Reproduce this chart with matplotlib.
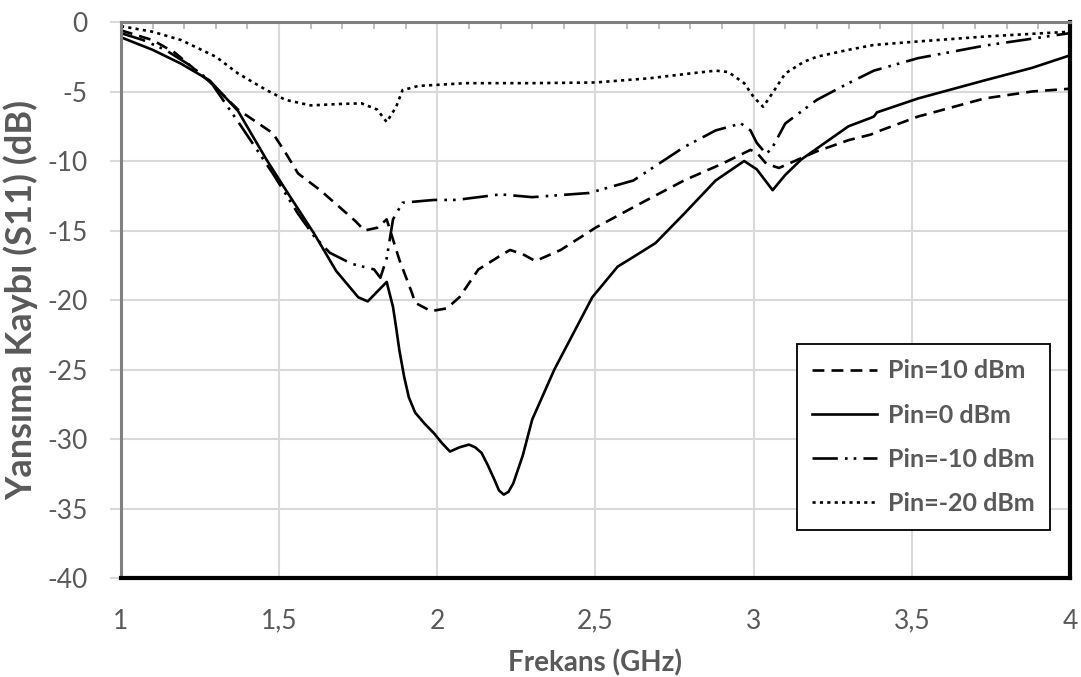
import matplotlib
matplotlib.use("Agg")
import matplotlib.pyplot as plt
from matplotlib.ticker import MultipleLocator, FuncFormatter

plt.rcParams['font.family'] = ['Lato', 'DejaVu Sans']

# S11 readings per input power level (frequency in GHz, return loss in dB)
f_p10 = [1.00, 1.10, 1.17, 1.28, 1.37, 1.48, 1.52, 1.56, 1.63, 1.69, 1.74, 1.77, 1.81, 1.84,
         1.88, 1.92, 1.93, 1.98, 2.03, 2.07, 2.13, 2.20, 2.23, 2.27, 2.31, 2.39, 2.50, 2.63,
         2.78, 2.90, 2.99, 3.01, 3.04, 3.08, 3.20, 3.30, 3.37, 3.39, 3.52, 3.73, 3.88, 4.00]
s_p10 = [-0.6, -1.3, -2.2, -4.3, -6.3, -8.0, -9.4, -10.9, -12.1, -13.3, -14.3, -15.0, -14.8, -14.2,
         -17.1, -19.5, -20.2, -20.8, -20.6, -19.8, -17.8, -16.8, -16.4, -16.7, -17.2, -16.4, -14.8, -13.2,
         -11.4, -10.2, -9.2, -9.4, -10.2, -10.5, -9.3, -8.5, -8.1, -7.9, -6.8, -5.5, -5.0, -4.8]

f_p0 = [1.00, 1.10, 1.19, 1.28, 1.37, 1.46, 1.53, 1.61, 1.68, 1.75, 1.78, 1.81, 1.84, 1.86,
        1.87, 1.88, 1.895, 1.91, 1.93, 1.96, 1.99, 2.015, 2.04, 2.07, 2.10, 2.12, 2.14, 2.16,
        2.18, 2.195, 2.21, 2.225, 2.24, 2.27, 2.30, 2.37, 2.43, 2.49, 2.57, 2.62, 2.69, 2.78,
        2.88, 2.97, 3.01, 3.06, 3.10, 3.15, 3.30, 3.37, 3.38, 3.39, 3.52, 3.73, 3.88, 4.00]
s_p0 = [-1.1, -2.0, -3.0, -4.2, -6.4, -9.9, -12.4, -15.2, -17.9, -19.8, -20.1, -19.4, -18.7, -20.5,
        -22.0, -23.6, -25.5, -27.0, -28.1, -28.9, -29.6, -30.3, -30.9, -30.6, -30.4, -30.6, -31.0, -31.9,
        -32.9, -33.7, -34.0, -33.8, -33.2, -31.2, -28.6, -25.0, -22.4, -19.8, -17.6, -16.9, -15.9, -13.8,
        -11.4, -10.0, -10.6, -12.1, -11.0, -9.9, -7.5, -6.9, -6.8, -6.5, -5.5, -4.2, -3.3, -2.4]

f_m10 = [1.00, 1.07, 1.14, 1.21, 1.28, 1.38, 1.48, 1.56, 1.61, 1.66, 1.73, 1.80, 1.82, 1.84,
         1.86, 1.89, 1.99, 2.06, 2.20, 2.30, 2.48, 2.62, 2.70, 2.78, 2.88, 2.96, 2.99, 3.01,
         3.04, 3.06, 3.10, 3.20, 3.30, 3.38, 3.52, 3.73, 3.88, 4.00]
s_m10 = [-0.8, -1.3, -2.0, -3.0, -4.2, -7.5, -10.9, -13.8, -15.4, -16.6, -17.4, -17.8, -18.4, -17.0,
         -14.2, -13.0, -12.8, -12.8, -12.4, -12.6, -12.3, -11.4, -10.2, -9.0, -7.8, -7.3, -7.8, -8.7,
         -9.5, -9.0, -7.3, -5.6, -4.4, -3.5, -2.6, -1.7, -1.2, -0.8]

f_m20 = [1.00, 1.10, 1.19, 1.30, 1.37, 1.46, 1.52, 1.60, 1.69, 1.76, 1.81, 1.84, 1.87, 1.89,
         1.94, 2.09, 2.30, 2.50, 2.67, 2.80, 2.88, 2.92, 2.97, 3.00, 3.03, 3.06, 3.10, 3.16,
         3.20, 3.30, 3.38, 3.52, 3.73, 3.88, 4.00]
s_m20 = [-0.3, -0.7, -1.3, -2.5, -3.7, -4.9, -5.6, -6.0, -5.9, -5.85, -6.3, -7.2, -6.1, -4.9,
         -4.6, -4.4, -4.4, -4.35, -4.05, -3.7, -3.5, -3.6, -4.4, -5.4, -6.1, -5.1, -3.7, -2.85,
         -2.5, -2.0, -1.65, -1.4, -1.05, -0.85, -0.7]

series = [
    (f_p10, s_p10, 'Pin=10 dBm', (4.5, 2.7)),
    (f_p0, s_p0, 'Pin=0 dBm', None),
    (f_m10, s_m10, 'Pin=-10 dBm', (9.6, 2.7, 1, 2.3, 1, 2.7)),
    (f_m20, s_m20, 'Pin=-20 dBm', (1.2, 1.6)),
]

gray_txt = '#595959'

fig = plt.figure(figsize=(10.81, 6.77), dpi=100)
ax = fig.add_axes([0.1119, 0.1462, 0.8779, 0.8213])

for f, s, lab, dash in series:
    line, = ax.plot(f, s, color='black', lw=1.9, label=lab, solid_joinstyle='round')
    if dash is not None:
        line.set_dashes(dash)

ax.set_xlim(1, 4)
ax.set_ylim(-40, 0)
ax.xaxis.set_major_locator(MultipleLocator(0.5))
ax.yaxis.set_major_locator(MultipleLocator(5))
comma = FuncFormatter(lambda v, p: f'{v:g}'.replace('.', ','))
ax.xaxis.set_major_formatter(comma)
ax.yaxis.set_major_formatter(comma)

ax.grid(True, color='#d9d9d9', lw=1.5)
ax.set_axisbelow(True)

ax.tick_params(axis='x', length=0, pad=22, labelsize=19, labelcolor=gray_txt)
ax.tick_params(axis='y', length=8, width=1.5, color='#d9d9d9', pad=16,
               labelsize=19, labelcolor=gray_txt)

# minor marks along the top edge
top = ax.secondary_xaxis('top')
top.xaxis.set_major_locator(MultipleLocator(0.1))
top.tick_params(axis='x', direction='in', length=5, width=1.5, color='#bfbfbf',
                labeltop=False)
top.spines['top'].set_visible(False)

ax.spines['top'].set_color('#808080')
ax.spines['top'].set_linewidth(2.2)
ax.spines['left'].set_color('#808080')
ax.spines['left'].set_linewidth(2.2)
ax.spines['right'].set_color('black')
ax.spines['right'].set_linewidth(3)
ax.spines['bottom'].set_color('black')
ax.spines['bottom'].set_linewidth(3)

ax.set_xlabel('Frekans (GHz)', fontsize=20, fontweight='bold', color=gray_txt)
ax.xaxis.set_label_coords(0.5, -0.128)
ax.set_ylabel('Yansıma Kaybı (S11) (dB)', fontsize=26, fontweight='bold', color=gray_txt)
ax.yaxis.set_label_coords(-0.087, 0.5)

leg = ax.legend(loc='lower right', bbox_to_anchor=(0.979, 0.086), borderaxespad=0,
                frameon=True, fancybox=False, edgecolor='black', framealpha=1,
                handlelength=2.6, handletextpad=0.45, labelspacing=0.85, borderpad=0.6,
                prop={'size': 18, 'weight': 'bold'})
leg.get_frame().set_linewidth(1.3)
for t in leg.get_texts():
    t.set_color(gray_txt)

fig.savefig('out.png', dpi=100)
